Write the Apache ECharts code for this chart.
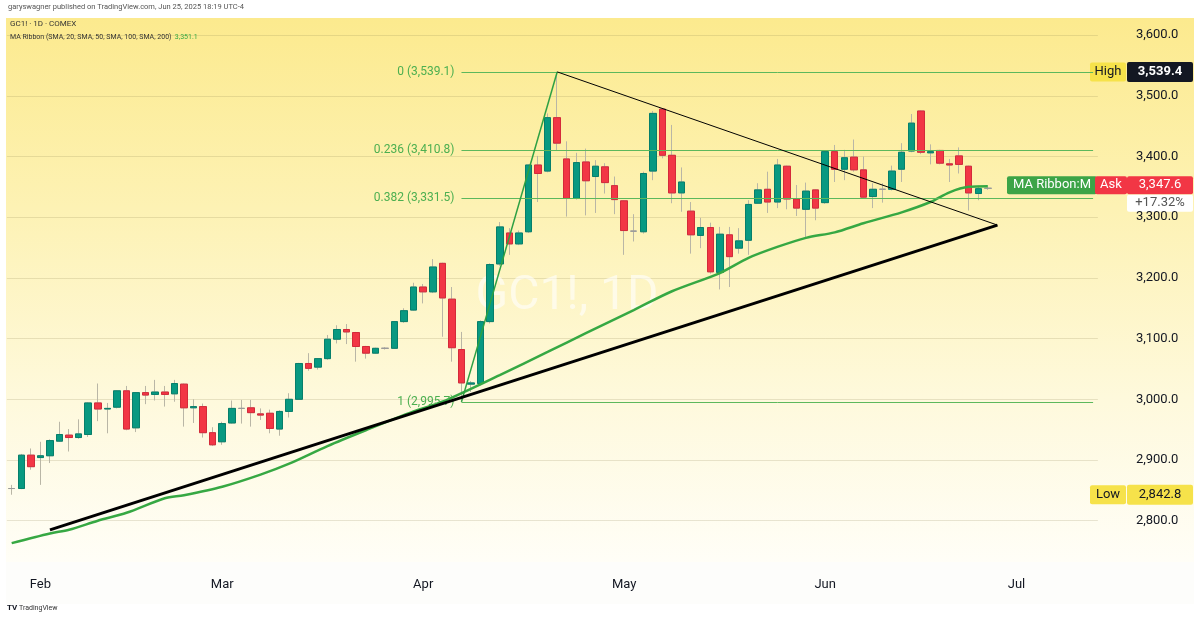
<!DOCTYPE html>
<html>
<head>
<meta charset="utf-8">
<title>GC1! 1D COMEX</title>
<script src="https://cdn.jsdelivr.net/npm/echarts@6/dist/echarts.min.js"></script>
<style>
  html, body { margin: 0; padding: 0; background: #fff; }
  #wrap { position: relative; width: 1200px; height: 622px; overflow: hidden; }
  #pane { position: absolute; left: 6px; top: 18px; width: 1188px; height: 544px;
    background: linear-gradient(to bottom, #fcea8e 0%, #fdf2b4 35%, #fef9dc 70%, #fffef7 100%); }
  #timebar { position: absolute; left: 6px; top: 562px; width: 1188px; height: 42px; background: #fdfdfb; }
  #chart { position: absolute; left: 0; top: 0; width: 1200px; height: 622px; }
</style>
</head>
<body>
<div id="wrap"><div id="pane"></div><div id="timebar"></div><div id="chart"></div></div>
<script>
// trading days per month (Feb 17, Apr 18, May 26, Jun 19, Jul 4 closed)
const janDays = [29, 30, 31];
const febDays = [3, 4, 5, 6, 7, 10, 11, 12, 13, 14, 18, 19, 20, 21, 24, 25, 26, 27, 28];
const marDays = [3, 4, 5, 6, 7, 10, 11, 12, 13, 14, 17, 18, 19, 20, 21, 24, 25, 26, 27, 28, 31];
const aprDays = [1, 2, 3, 4, 7, 8, 9, 10, 11, 14, 15, 16, 17, 21, 22, 23, 24, 25, 28, 29, 30];
const mayDays = [1, 2, 5, 6, 7, 8, 9, 12, 13, 14, 15, 16, 19, 20, 21, 22, 23, 27, 28, 29, 30];
const junDays = [2, 3, 4, 5, 6, 9, 10, 11, 12, 13, 16, 17, 18, 20, 23, 24, 25, 26, 27, 30];
const julDays = [1, 2, 3, 7, 8, 9, 10, 11, 14];
const monthNames = ['Jan', 'Feb', 'Mar', 'Apr', 'May', 'Jun', 'Jul'];

// daily candles, Jan 29 .. Jun 26
const open = [2853, 2853, 2908, 2904, 2907, 2931, 2941, 2937, 2942, 2994,
  2984, 2987, 3014, 2953, 3011, 3008, 3012, 3009, 3025, 2986,
  2988, 2945, 2930, 2961, 2985, 2986, 2976, 2977, 2951, 2980,
  3000, 3059, 3053, 3067, 3099, 3115, 3110, 3087, 3076, 3084,
  3084, 3128, 3147, 3185, 3177, 3224, 3165, 3082, 3025, 3026,
  3128, 3223, 3274, 3256, 3276, 3386, 3376, 3464, 3396, 3331,
  3391, 3367, 3383, 3352, 3327, 3277, 3276, 3376, 3478, 3402,
  3340, 3310, 3270, 3283, 3209, 3271, 3249, 3262, 3323, 3346,
  3325, 3384, 3330, 3313, 3345, 3324, 3408, 3379, 3399, 3378,
  3334, 3346, 3346, 3379, 3409, 3475, 3406, 3410, 3388, 3401,
  3384, 3339, 3347.6];
const high = [2859, 2910, 2919, 2930, 2934, 2963, 2951, 2967, 2995, 3026,
  2994, 3015, 3022, 3012, 3022, 3032, 3022, 3032, 3026, 3000,
  2993, 2954, 2963, 2998, 2999, 2999, 2985, 2983, 2982, 3010,
  3060, 3076, 3068, 3106, 3122, 3124, 3111, 3088, 3085, 3086,
  3129, 3150, 3192, 3190, 3231, 3225, 3185, 3111, 3030, 3130,
  3224, 3292, 3282, 3278, 3387, 3401, 3471, 3539.4, 3425, 3406,
  3413, 3394, 3389, 3367, 3328, 3305, 3375, 3475, 3478, 3452,
  3382, 3325, 3299, 3291, 3284, 3284, 3282, 3328, 3356, 3375,
  3396, 3385, 3353, 3357, 3346, 3409, 3419, 3411, 3428, 3400,
  3356, 3356, 3385, 3422, 3470, 3476, 3420, 3411, 3396, 3415,
  3385, 3352, 3350];
const low = [2842.8, 2852, 2884, 2859, 2895, 2930, 2914, 2935, 2938, 2964,
  2944, 2985, 2949, 2946, 2992, 2998, 2988, 2996, 2955, 2961,
  2937, 2923, 2925, 2960, 2960, 2955, 2966, 2944, 2940, 2970,
  2999, 3047, 3049, 3065, 3092, 3091, 3062, 3067, 3075, 3082,
  3083, 3126, 3146, 3158, 3175, 3103, 3062, 2995.7, 3012, 3023,
  3125, 3220, 3238, 3254, 3274, 3325, 3374, 3409, 3301, 3329,
  3303, 3307, 3339, 3305, 3238, 3260, 3273, 3361, 3397, 3323,
  3309, 3240, 3249, 3207, 3181, 3185, 3240, 3238, 3322, 3307,
  3315, 3313, 3302, 3265, 3295, 3322, 3358, 3361, 3375, 3331,
  3315, 3324, 3344, 3358, 3407, 3404, 3387, 3387, 3358, 3372,
  3311, 3328, 3345];
const close = [2853, 2908, 2889, 2907, 2932, 2942, 2937, 2943, 2994, 2984,
  2985, 3014, 2951, 3011, 3007, 3012, 3008, 3026, 2986, 2988,
  2945, 2925, 2960, 2985, 2985, 2978, 2974, 2952, 2980, 3000,
  3059, 3051, 3067, 3099, 3115, 3111, 3087, 3076, 3084, 3084,
  3128, 3146, 3185, 3177, 3218, 3167, 3085, 3027, 3027, 3128,
  3222, 3284, 3256, 3274, 3386, 3372, 3464, 3422, 3331, 3390,
  3360, 3384, 3357, 3329, 3278, 3277, 3372, 3471, 3402, 3340,
  3358, 3271, 3283, 3210, 3272, 3235, 3261, 3321, 3345, 3325,
  3386, 3330, 3315, 3343, 3315, 3408, 3379, 3398, 3378, 3333,
  3346, 3346, 3376, 3407, 3455, 3407, 3408, 3389, 3386, 3387,
  3340, 3347, 3347.6];

// MA ribbon line (candle index, value)
const maIndex = [0, 4, 6, 9, 12, 16, 18, 22, 26, 29, 33, 37, 42, 45, 51, 56, 60, 65,
  69, 74, 77, 80, 83, 86, 89, 93, 96, 98, 100, 102];
const maValue = [2763, 2779, 2785, 2800, 2813, 2837, 2842, 2856, 2876, 2894, 2923, 2949,
  2980, 2996, 3040, 3078, 3109, 3147, 3178, 3208, 3233, 3251, 3266, 3275, 3290, 3308,
  3325, 3341, 3350, 3351.1];

// fibonacci retracement, drawn from the Apr 7 low to the Apr 22 high
const fibRatios = ['0', '0.236', '0.382', '1'];
const fibPrices = [3539.1, 3410.8, 3331.5, 2995.7];
const fibLowIdx = 47, fibHighIdx = 57;

// trend lines (candle index, price)
const supportLine = [[4, 2785], [103, 3287]];
const resistLine = [[57, 3539.4], [103, 3287]];

const yTicks = [2800, 3600, 100];
const lastPrice = 3347.6, maLast = 3351.1, highPrice = 3539.4, lowPrice = 2842.8;

const dates = [];
const monthStart = [];
[janDays, febDays, marDays, aprDays, mayDays, junDays, julDays].forEach((days, m) => {
  days.forEach((d, k) => {
    dates.push('2025-' + String(m + 1).padStart(2, '0') + '-' + String(d).padStart(2, '0'));
    monthStart.push(k === 0 && m > 0);
  });
});

const fmt = v => v.toLocaleString('en-US', { minimumFractionDigits: 1, maximumFractionDigits: 1 });

const UP = '#089981', DOWN = '#f23645', WICK = '#b9b6a6', DOJI = '#9a9a9a';
const wickData = open.map((o, i) => [o, close[i], low[i], high[i]]);
const bodyData = open.map((o, i) => {
  const c = close[i];
  const item = { value: [o, c, Math.min(o, c), Math.max(o, c)] };
  if (o === c) item.itemStyle = { borderColor: DOJI, borderColor0: DOJI, color: DOJI, color0: DOJI };
  return item;
});
const maData = maIndex.map((k, i) => [dates[k], maValue[i]]);

const FONT = 'Roboto, "Noto Sans", sans-serif';
const chart = echarts.init(document.getElementById('chart'));
const band = 9.57;

chart.setOption({
  animation: false,
  backgroundColor: 'transparent',
  grid: { left: 6.9, top: 35.1, width: band * dates.length, height: 485.6 },
  xAxis: {
    type: 'category', data: dates, boundaryGap: true,
    axisLine: { show: false }, axisTick: { show: false }, splitLine: { show: false },
    axisLabel: {
      interval: (i) => monthStart[i],
      formatter: (v) => monthNames[parseInt(v.slice(5, 7), 10) - 1],
      color: '#131722', fontSize: 13, fontFamily: FONT, margin: 58
    }
  },
  yAxis: {
    type: 'value', position: 'right', min: yTicks[0], max: yTicks[1], interval: yTicks[2],
    axisLine: { show: false }, axisTick: { show: false },
    splitLine: { lineStyle: { color: 'rgba(140,130,80,0.2)', width: 1 } },
    axisLabel: { color: '#131722', fontSize: 13, fontFamily: FONT, margin: 38, formatter: v => fmt(v) }
  },
  series: [
    {
      type: 'candlestick', name: 'wicks', data: wickData, barWidth: 7, z: 2,
      itemStyle: { color: WICK, color0: WICK, borderColor: WICK, borderColor0: WICK, borderWidth: 1 }
    },
    {
      type: 'candlestick', name: 'GC1!', data: bodyData, barWidth: 7, z: 3,
      itemStyle: { color: UP, color0: DOWN, borderColor: '#067f6b', borderColor0: '#d42a3a', borderWidth: 1 }
    },
    {
      type: 'line', name: 'MA Ribbon', data: maData, smooth: 0.3, showSymbol: false, symbol: 'none',
      clip: false, z: 4, lineStyle: { color: '#36a843', width: 2.5 }
    },
    {
      type: 'line', name: 'Fib', data: [[dates[fibLowIdx], fibPrices[3]], [dates[fibHighIdx], fibPrices[0]]],
      symbol: 'none', z: 5, lineStyle: { color: '#2ea043', width: 1.5 },
      markLine: {
        silent: true, symbol: ['none', 'none'],
        lineStyle: { color: '#5cb85c', width: 1, type: 'solid' },
        label: { position: 'start', formatter: '{b}', color: '#4caf50', fontSize: 12, fontFamily: FONT, distance: 7 },
        data: fibPrices.map((p, i) => [
          { name: fibRatios[i] + ' (' + fmt(p) + ')', coord: [dates[fibLowIdx], p] },
          { coord: [dates[dates.length - 1], p] }
        ])
      }
    },
    {
      type: 'line', name: 'support', data: supportLine.map(p => [dates[p[0]], p[1]]),
      symbol: 'none', clip: false, z: 6, lineStyle: { color: '#000', width: 3 }
    },
    {
      type: 'line', name: 'resistance', data: resistLine.map(p => [dates[p[0]], p[1]]),
      symbol: 'none', clip: false, z: 6, lineStyle: { color: '#000', width: 1 }
    }
  ]
});

const yOf = p => chart.convertToPixel({ yAxisIndex: 0 }, p);
function tag(x, yc, w, h, bg, text, color, bold) {
  return {
    type: 'group', z: 100, children: [
      { type: 'rect', shape: { x: x, y: yc - h / 2, width: w, height: h, r: 2 }, style: { fill: bg } },
      { type: 'text', x: x + w / 2, y: yc, style: {
        text: text, fill: color, font: (bold ? 'bold ' : '') + '13px ' + FONT,
        align: 'center', verticalAlign: 'middle', textAlign: 'center', textVerticalAlign: 'middle' } }
    ]
  };
}

const yH = yOf(highPrice), yL = yOf(lowPrice), yA = yOf(maLast) - 1;
chart.setOption({
  graphic: [
    { type: 'text', left: 8, top: 3, z: 100, style: { text: 'garyswagner published on TradingView.com, Jun 25, 2025 18:19 UTC-4', fill: '#555', font: '7.5px ' + FONT } },
    { type: 'text', left: 10, top: 20, z: 100, style: { text: 'GC1! \u00b7 1D \u00b7 COMEX', fill: '#333', font: '8px ' + FONT } },
    { type: 'text', left: 10, top: 31, z: 100, style: {
      text: '{a|MA Ribbon (SMA, 20, SMA, 50, SMA, 100, SMA, 200)} {b|' + fmt(maLast) + '}',
      rich: { a: { fill: '#333', font: '7px ' + FONT }, b: { fill: '#36a843', font: '7px ' + FONT } } } },
    { type: 'text', x: 567, y: 297, z: 1, style: {
      text: 'GC1!, 1D', fill: 'rgba(255,255,255,0.6)', font: '48px ' + FONT,
      align: 'center', verticalAlign: 'middle', textAlign: 'center', textVerticalAlign: 'middle' } },
    tag(1090, yH, 36, 19, '#f6e24a', 'High', '#131722', false),
    tag(1127, yH, 66, 20, '#131722', fmt(highPrice), '#fff', true),
    tag(1090, yL, 36, 19, '#f6e24a', 'Low', '#131722', false),
    tag(1127, yL, 66, 20, '#f6e24a', fmt(lowPrice), '#131722', false),
    tag(1007, yA, 90, 18, '#3ca447', 'MA Ribbon:M', '#fff', false),
    tag(1095, yA, 32, 18, '#f23645', 'Ask', '#fff', false),
    tag(1127, yA, 66, 18, '#f23645', fmt(lastPrice), '#fff', false),
    tag(1127, yA + 18, 66, 17, '#ffffff', '+17.32%', '#555', false),
    { type: 'text', left: 7, top: 604, z: 100, style: { text: '{l|TV} TradingView', fill: '#333', font: '7px ' + FONT,
      rich: { l: { fill: '#131722', font: 'bold 8px ' + FONT } } } }
  ]
});
</script>
</body>
</html>
